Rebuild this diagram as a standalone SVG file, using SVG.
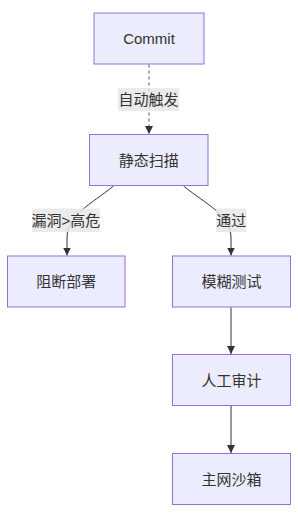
<svg xmlns="http://www.w3.org/2000/svg" width="298" height="518" viewBox="0 0 298 518">
<style>
.node rect{fill:#ECECFF;stroke:#9370DB;stroke-width:1}
text{font-family:"Liberation Sans","Noto Sans CJK SC",sans-serif;font-size:15px;fill:#333;text-anchor:middle;dominant-baseline:central}
.edge{fill:none;stroke:#333;stroke-width:1}
.dotted{stroke-dasharray:3,3;stroke:#555}
.lbl{fill:#e8e8e8;fill-opacity:0.85}
</style>
<defs>
<marker id="arr" viewBox="0 0 10 10" refX="10" refY="5" markerWidth="8" markerHeight="8" markerUnits="userSpaceOnUse" orient="auto">
<path d="M0,0 L10,5 L0,10 z" fill="#333"/>
</marker>
</defs>
<g id="connectors">
<path class="edge dotted" d="M149,64.5 L149,134" marker-end="url(#arr)"/>
<path class="edge" d="M113.5,186 C90,205 67,215 67,238 L67,255.5" marker-end="url(#arr)"/>
<path class="edge" d="M183.5,186 C207,205 231,215 231,238 L231,255.5" marker-end="url(#arr)"/>
<path class="edge" d="M231,307.5 L231,354" marker-end="url(#arr)"/>
<path class="edge" d="M231,406 L231,453" marker-end="url(#arr)"/>
<g id="label-auto"><rect class="lbl" x="118" y="88" width="61" height="23"/><text x="148.5" y="99.5">自动触发</text></g>
<g id="label-high"><rect class="lbl" x="32" y="208.5" width="68" height="23.5"/><text x="66" y="220">漏洞&gt;高危</text></g>
<g id="label-pass"><rect class="lbl" x="216" y="208.5" width="30.5" height="23.5"/><text x="231.2" y="220">通过</text></g>
</g>
<g id="commit" class="node"><rect x="94" y="13" width="110" height="51"/><text x="149" y="38.5">Commit</text></g>
<g id="scan" class="node"><rect x="89.5" y="134.5" width="118.5" height="51"/><text x="148.7" y="160">静态扫描</text></g>
<g id="block" class="node"><rect x="7.5" y="256" width="117.5" height="51"/><text x="66.2" y="281.5">阻断部署</text></g>
<g id="fuzz" class="node"><rect x="172.5" y="256" width="118" height="51"/><text x="231.5" y="281.5">模糊测试</text></g>
<g id="audit" class="node"><rect x="172.5" y="354.5" width="118" height="51"/><text x="231.5" y="380">人工审计</text></g>
<g id="sandbox" class="node"><rect x="172.5" y="453.5" width="118" height="51"/><text x="231.5" y="479">主网沙箱</text></g>
</svg>
